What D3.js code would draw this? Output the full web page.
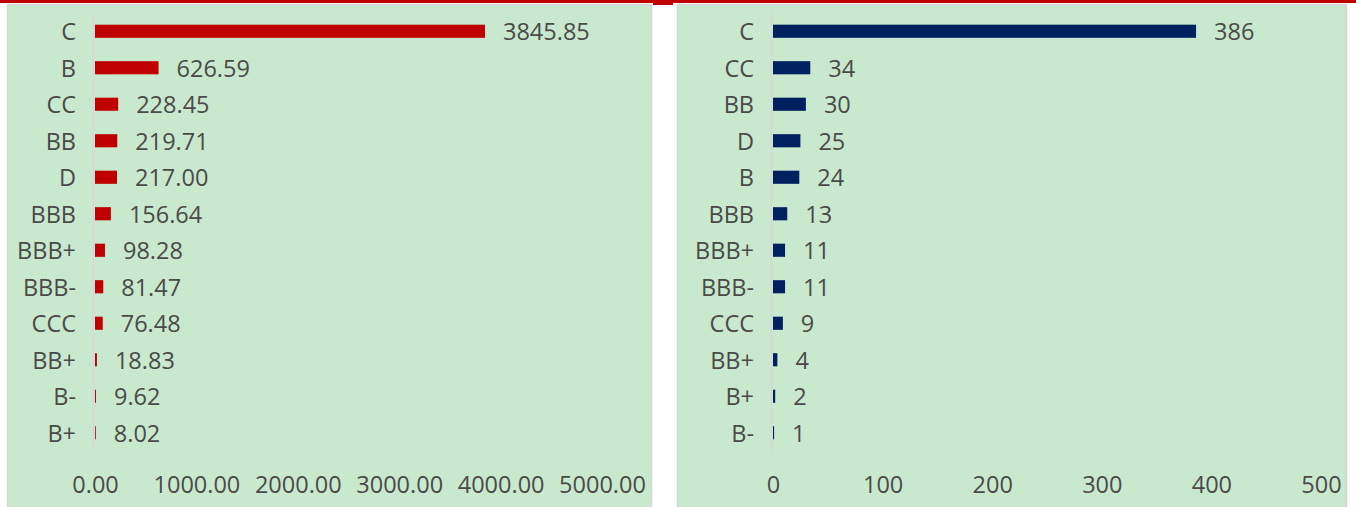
<!DOCTYPE html>
<html>
<head>
<meta charset="utf-8">
<script src="https://cdn.jsdelivr.net/npm/d3@7"></script>
<style>
  html, body { margin: 0; padding: 0; background: #fff; }
  svg { display: block; font-family: 'Open Sans', sans-serif; }
</style>
</head>
<body>
<svg id="chart" width="1356" height="507"></svg>
<script>
// left panel: amounts by rating
const leftCats = ['C', 'B', 'CC', 'BB', 'D', 'BBB', 'BBB+', 'BBB-', 'CCC', 'BB+', 'B-', 'B+'];
const leftVals = [3845.85, 626.59, 228.45, 219.71, 217.00, 156.64, 98.28, 81.47, 76.48, 18.83, 9.62, 8.02];
const leftTicks = [0, 1000, 2000, 3000, 4000, 5000];

// right panel: counts by rating
const rightCats = ['C', 'CC', 'BB', 'D', 'B', 'BBB', 'BBB+', 'BBB-', 'CCC', 'BB+', 'B+', 'B-'];
const rightVals = [386, 34, 30, 25, 24, 13, 11, 11, 9, 4, 2, 1];
const rightTicks = [0, 100, 200, 300, 400, 500];

const BG = '#c9e9cf';
const BORDER = '#d6d6d6';
const TEXT = '#4a4a4a';
const FS = 23.5;

const svg = d3.select('#chart');

// top red rule
svg.append('rect').attr('x', 0).attr('y', 0).attr('width', 1356).attr('height', 3).attr('fill', '#c00000');
svg.append('rect').attr('x', 653).attr('y', 0).attr('width', 20).attr('height', 5).attr('fill', '#c00000');

function hbar(panel, cats, vals, ticks, color, fmtTick, fmtVal) {
  const g = svg.append('g');

  g.append('rect')
    .attr('x', panel.x0 + 0.5).attr('y', 4.5)
    .attr('width', panel.x1 - panel.x0 - 1).attr('height', 510)
    .attr('fill', BG).attr('stroke', BORDER).attr('stroke-width', 1.5);

  const x = d3.scaleLinear().domain([0, ticks[ticks.length - 1]]).range([panel.zero, panel.max]);
  const y = d3.scaleBand().domain(cats).range([13, 451]).paddingInner(0.64).paddingOuter(0.32);

  // category axis line
  g.append('line')
    .attr('x1', panel.zero - 1.5).attr('x2', panel.zero - 1.5)
    .attr('y1', 13).attr('y2', 451)
    .attr('stroke', BORDER).attr('stroke-width', 1.5);

  // category labels
  g.selectAll('.cat')
    .data(cats)
    .join('text')
    .attr('x', panel.zero - 19)
    .attr('y', d => y(d) + y.bandwidth() / 2)
    .attr('text-anchor', 'end')
    .attr('dominant-baseline', 'central')
    .attr('fill', TEXT).attr('font-size', FS)
    .text(d => d);

  // bars
  g.selectAll('.bar')
    .data(vals)
    .join('rect')
    .attr('x', panel.zero)
    .attr('y', (_, i) => y(cats[i]))
    .attr('width', d => x(d) - panel.zero)
    .attr('height', y.bandwidth())
    .attr('fill', color);

  // value labels
  g.selectAll('.val')
    .data(vals)
    .join('text')
    .attr('x', d => x(d) + 18)
    .attr('y', (_, i) => y(cats[i]) + y.bandwidth() / 2)
    .attr('dominant-baseline', 'central')
    .attr('fill', TEXT).attr('font-size', FS)
    .text(fmtVal);

  // value axis
  const axisG = g.append('g').attr('transform', 'translate(0,476)');
  axisG.call(d3.axisBottom(x).tickValues(ticks).tickFormat(fmtTick).tickSize(0).tickPadding(0));
  axisG.select('.domain').remove();
  axisG.selectAll('text')
    .attr('fill', TEXT).attr('font-size', FS)
    .attr('font-family', 'Open Sans, sans-serif')
    .attr('dy', 0).attr('y', 7.5)
    .attr('dominant-baseline', 'central');
}

hbar({ x0: 7, x1: 652, zero: 95, max: 602 }, leftCats, leftVals, leftTicks, '#c00000',
  d3.format('.2f'), d3.format('.2f'));

hbar({ x0: 677, x1: 1347, zero: 773, max: 1321 }, rightCats, rightVals, rightTicks, '#002060',
  d3.format('d'), d3.format('d'));
</script>
</body>
</html>
